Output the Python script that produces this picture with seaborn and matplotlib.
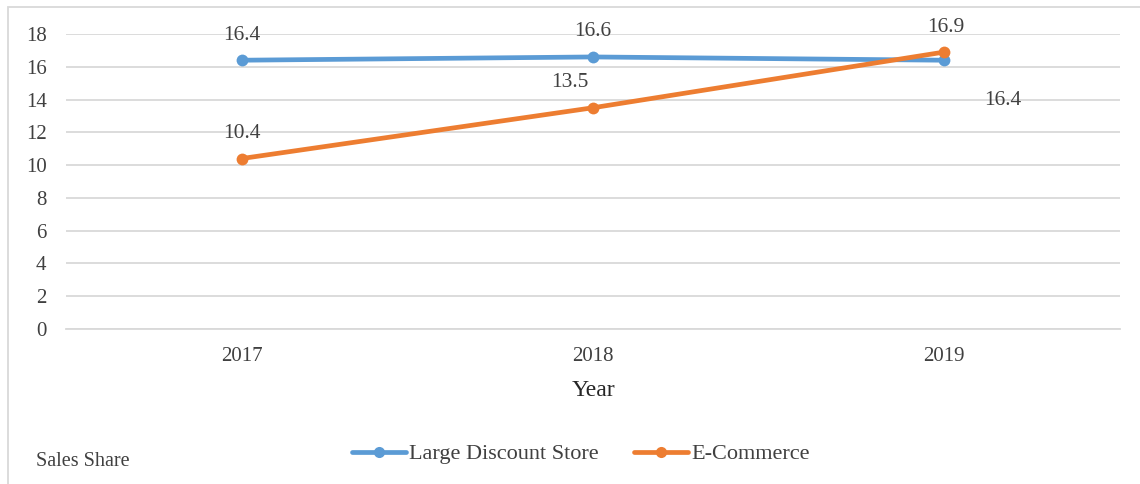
import matplotlib
matplotlib.use("Agg")
import matplotlib.pyplot as plt
import seaborn as sns
import pandas as pd
from matplotlib.patches import Rectangle
from matplotlib.lines import Line2D

years = ["2017", "2018", "2019"]
large_discount = [16.4, 16.6, 16.4]
ecommerce = [10.4, 13.5, 16.9]
series_names = ["Large Discount Store", "E-Commerce"]
y_ticks = [0, 2, 4, 6, 8, 10, 12, 14, 16, 18]

sns.set_theme(style="white")
plt.rcParams['font.family'] = ['Liberation Serif', 'DejaVu Serif']

df = pd.DataFrame({
    "Year": years * 2,
    "Value": large_discount + ecommerce,
    "Series": [series_names[0]] * 3 + [series_names[1]] * 3,
})

fig = plt.figure(figsize=(11.4, 4.84), dpi=100)
ax = fig.add_axes([66/1140, 1-329/484, (1120-66)/1140, (329-34)/484])

palette = {series_names[0]: "#5B9BD5", series_names[1]: "#ED7D31"}
sns.lineplot(data=df, x="Year", y="Value", hue="Series", palette=palette,
             marker="o", markersize=8.5, markeredgewidth=0, linewidth=3.4,
             ax=ax, legend=False, sort=False)

ax.set_xlim(-0.5, 2.5)
ax.set_ylim(0, 18)
ax.set_yticks(y_ticks)
ax.grid(axis="y", color="#D9D9D9", linewidth=1.3)
ax.set_axisbelow(True)
for s in ["left", "right", "top"]:
    ax.spines[s].set_visible(False)
ax.spines["bottom"].set_color("#D9D9D9")
ax.spines["bottom"].set_linewidth(1.3)
ax.tick_params(axis="x", length=0, labelsize=15, colors="#404040", pad=13)
ax.tick_params(axis="y", length=0, labelsize=15, colors="#404040", pad=14)
ax.set_xlabel("Year", fontsize=17, color="#262626", labelpad=10)
ax.set_ylabel("")

# data labels
ld_offsets = [(0, 18), (0, 18), (42, -29)]
ec_offsets = [(0, 18), (-17, 18), (1, 18)]
for i, v in enumerate(large_discount):
    ax.annotate(f"{v}", (i, v), xytext=ld_offsets[i], textcoords="offset points",
                ha="center", va="center", fontsize=15.5, color="#404040")
for i, v in enumerate(ecommerce):
    ax.annotate(f"{v}", (i, v), xytext=ec_offsets[i], textcoords="offset points",
                ha="center", va="center", fontsize=15.5, color="#404040")

# legend
handles = [Line2D([0], [0], color=palette[n], lw=3.4, marker="o", markersize=8,
                  markeredgewidth=0) for n in series_names]
fig.legend(handles, series_names, loc="center", bbox_to_anchor=(581/1140, 1-454/484),
           ncol=2, frameon=False, fontsize=16, handlelength=2.4, handletextpad=0.15,
           columnspacing=1.6, labelcolor="#404040")

fig.text(36/1140, 1-461/484, "Sales Share", fontsize=14.5, color="#404040",
         ha="left", va="center")

fig.patches.append(Rectangle((8/1140, -0.1), 1.2, 1-7/484+0.1, transform=fig.transFigure,
                             fill=False, edgecolor="#D9D9D9", linewidth=1.3))

fig.savefig("out.png", dpi=100)
